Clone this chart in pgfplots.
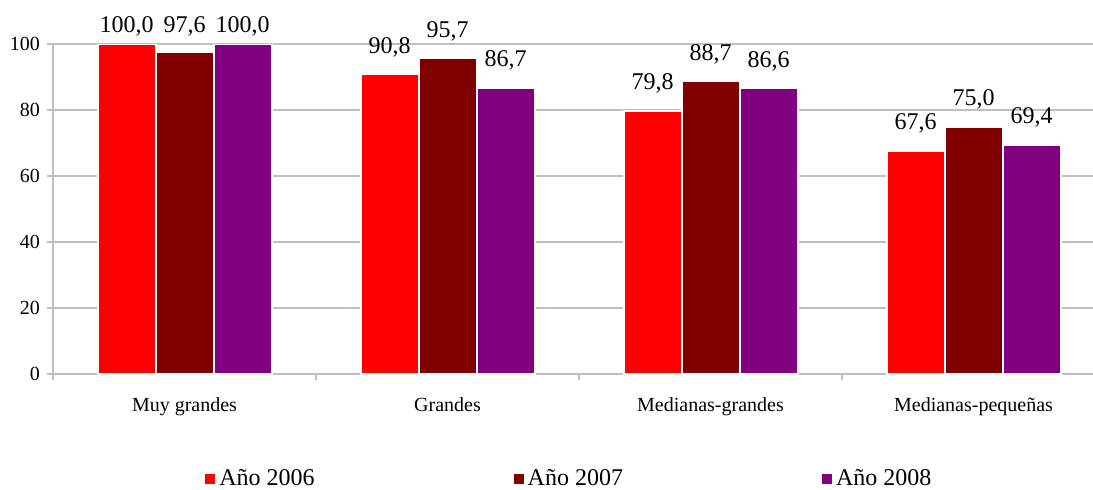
\documentclass[border=0pt]{standalone}
\usepackage{fontspec}
\setmainfont{Liberation Serif}
\usepackage{pgfplots}
\usepackage{pgfplotstable}
\pgfplotsset{compat=1.18}

\definecolor{c2006}{HTML}{FF0000}
\definecolor{c2007}{HTML}{800000}
\definecolor{c2008}{HTML}{800080}
\definecolor{gridgray}{HTML}{BFBFBF}

% x: category index, y: value
\pgfplotstableread{
x y
0 100.0
1 90.8
2 79.8
3 67.6
}\tabA
\pgfplotstableread{
x y
0 97.6
1 95.7
2 88.7
3 75.0
}\tabB
\pgfplotstableread{
x y
0 100.0
1 86.7
2 86.6
3 69.4
}\tabC

\begin{document}
\begin{tikzpicture}
\useasboundingbox (-26.5pt,-57.5pt) rectangle (520pt,187pt);
\begin{axis}[
  at={(0pt,0pt)}, anchor=south west,
  x=131.5pt, y=1.65pt,
  xmin=-0.5, xmax=3.4544, ymin=0, ymax=100,
  ybar=0pt, bar width=29pt,
  axis x line*=bottom, axis y line*=left,
  axis line style={gridgray, line width=1.2pt},
  ymajorgrids, grid style={gridgray, line width=1pt},
  ytick={0,20,...,100},
  xtick={-0.5,0.5,1.5,2.5},
  xticklabels={Muy grandes, Grandes, Medianas-grandes, Medianas-pequeñas},
  xticklabel style={xshift=65.75pt, yshift=-5.5pt},
  tick align=outside, major tick length=3pt,
  tick style={gridgray, line width=1pt},
  ticklabel style={font=\fontsize{10}{12}\selectfont},
  /pgf/number format/assume math mode=true,
  visualization depends on={rawy \as \yv},
  nodes near coords={\pgfmathprintnumber[fixed,fixed zerofill,precision=1,use comma]{\pgfplotspointmeta}},
  % labels sit 10.5pt above the bar, but never higher than 6pt above the top gridline
  every node near coord/.append style={anchor=base, yshift={min(10.5,171-1.65*\yv)},
    font=\fontsize{12}{14}\selectfont, text=black},
  legend columns=3,
  legend style={at={(0.14615,-0.31818)}, anchor=west, draw=none, inner sep=0pt,
    font=\fontsize{12}{14}\selectfont,
    /tikz/every even column/.append style={column sep=97.5pt}},
  every axis plot post/.append style={
    legend image code/.code={\fill[##1,draw=none] (0pt,-2.5pt) rectangle (5pt,2.5pt);}},
]
\addplot[fill=c2006, draw=white, line width=1pt] table[x=x,y=y] {\tabA};
\addplot[fill=c2007, draw=white, line width=1pt] table[x=x,y=y] {\tabB};
\addplot[fill=c2008, draw=white, line width=1pt] table[x=x,y=y] {\tabC};
\legend{Año 2006, Año 2007, Año 2008}
\end{axis}
\end{tikzpicture}
\end{document}
